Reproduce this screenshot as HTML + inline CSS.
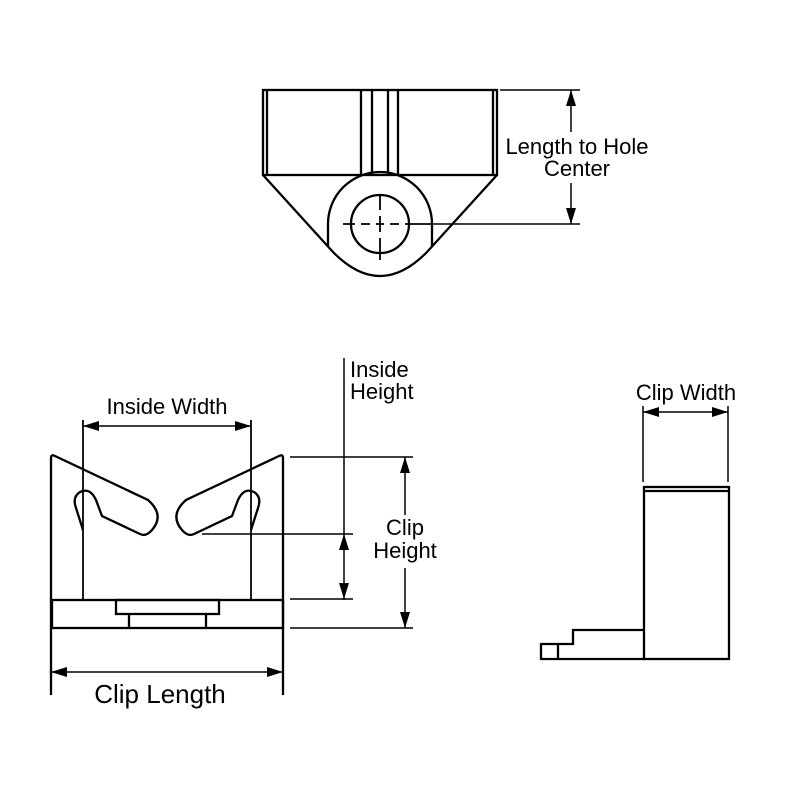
<!DOCTYPE html>
<html><head><style>body{margin:0;background:#fff}svg{display:block}</style></head>
<body>
<svg width="800" height="800" viewBox="0 0 800 800" xmlns="http://www.w3.org/2000/svg" font-family="'Liberation Sans', Arial, sans-serif">
<g stroke="#000" stroke-width="2.3" fill="none">
<!-- top view -->
<rect x="263" y="90" width="234" height="85"/>
<line x1="267" y1="90" x2="267" y2="175"/>
<line x1="493" y1="90" x2="493" y2="175"/>
<line x1="361" y1="90" x2="361" y2="175"/>
<line x1="372" y1="90" x2="372" y2="175"/>
<line x1="388" y1="90" x2="388" y2="175"/>
<line x1="398" y1="90" x2="398" y2="175"/>
<path d="M328,224 A52,52 0 0 1 432,224"/>
<path d="M328,224 L328,247 M432,224 L432,247"/>
<path d="M263,175 L333,252 Q380,300 427,252 L497,175"/>
<circle cx="380" cy="224" r="29"/>
<path d="M343,224 L355,224 M361,224 L370,224 M376,224 L384,224 M390,224 L399,224 M405,224 L432,224" stroke-width="1.8"/>
<path d="M380,195 L380,210 M380,216 L380,232 M380,238 L380,260" stroke-width="1.8"/>
<!-- length to hole dim -->
<line x1="500" y1="90" x2="580" y2="90" stroke-width="1.5"/>
<line x1="432" y1="224" x2="580" y2="224" stroke-width="1.5"/>
<line x1="571" y1="90" x2="571" y2="132" stroke-width="1.5"/>
<line x1="571" y1="183" x2="571" y2="224" stroke-width="1.5"/>

<!-- front view -->
<path d="M51,695 L51,458 Q51,454 55,456 L148,500 Q165,515 152,530 Q146,537 140,534 L102,516 L96,500 Q90,487 80,492 Q72,497 76,508 L83,530"/>
<path d="M283,695 L283,458 Q283,454 279,456 L186,500 Q169,515 182,530 Q188,537 194,534 L232,516 L238,500 Q244,487 254,492 Q262,497 258,508 L251,530"/>
<line x1="83" y1="420" x2="83" y2="600" stroke-width="1.8"/>
<line x1="251" y1="420" x2="251" y2="600" stroke-width="1.8"/>
<rect x="52" y="600" width="231" height="28"/>
<rect x="116" y="600" width="103" height="14"/>
<path d="M129,614 L129,628 M206,614 L206,628"/>
<!-- inside width -->
<line x1="83" y1="426" x2="251" y2="426" stroke-width="1.5"/>
<!-- clip length -->
<line x1="51" y1="672" x2="283" y2="672" stroke-width="1.5"/>
<!-- right-side dims -->
<g stroke-width="1.5">
<line x1="344" y1="358" x2="344" y2="600"/>
<line x1="290" y1="457" x2="413" y2="457"/>
<line x1="202" y1="534" x2="353" y2="534"/>
<line x1="290" y1="599" x2="353" y2="599"/>
<line x1="290" y1="628" x2="413" y2="628"/>
<line x1="405" y1="457" x2="405" y2="515"/>
<line x1="405" y1="568" x2="405" y2="628"/>
</g>
<!-- side view -->
<rect x="644" y="487" width="85" height="172"/>
<line x1="644" y1="491" x2="729" y2="491"/>
<path d="M644,630 L573,630 L573,644 L541,644 L541,659 L644,659 M558,644 L558,659"/>
<g stroke-width="1.5">
<line x1="643" y1="406" x2="643" y2="482"/>
<line x1="728" y1="406" x2="728" y2="482"/>
<line x1="643" y1="412" x2="728" y2="412"/>
</g>
</g>
<g fill="#000">
<polygon points="571,90 566,106 576,106"/>
<polygon points="571,224 566,208 576,208"/>
<polygon points="83,426 99,421 99,431"/>
<polygon points="251,426 235,421 235,431"/>
<polygon points="51,672 67,667 67,677"/>
<polygon points="283,672 267,667 267,677"/>
<polygon points="405,457 400,473 410,473"/>
<polygon points="405,628 400,612 410,612"/>
<polygon points="344,534 339,550 349,550"/>
<polygon points="344,599 339,583 349,583"/>
<polygon points="643,412 659,407 659,417"/>
<polygon points="728,412 712,407 712,417"/>
</g>
<g fill="#000" font-size="22">
<text x="577" y="154" text-anchor="middle">Length to Hole</text>
<text x="577" y="176" text-anchor="middle">Center</text>
<text x="167" y="414" text-anchor="middle">Inside Width</text>
<text x="350" y="377">Inside</text>
<text x="350" y="399">Height</text>
<text x="405" y="535" text-anchor="middle">Clip</text>
<text x="405" y="558" text-anchor="middle">Height</text>
<text x="686" y="400" text-anchor="middle">Clip Width</text>
<text x="160" y="703" text-anchor="middle" font-size="26">Clip Length</text>
</g>
</svg>
</body></html>
